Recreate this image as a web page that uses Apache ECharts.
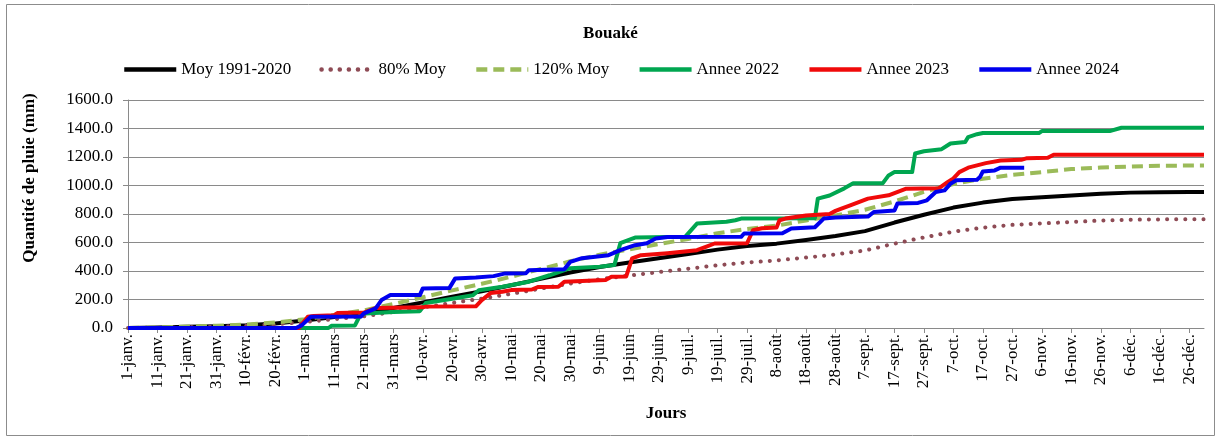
<!DOCTYPE html>
<html>
<head>
<meta charset="utf-8">
<script src="https://cdn.jsdelivr.net/npm/echarts@6/dist/echarts.min.js"></script>
<style>
html,body{margin:0;padding:0;background:#fff;}
#c{width:1221px;height:441px;}
</style>
</head>
<body>
<div id="c"></div>
<script>
// ---- tick labels (every 10 days, leap year) ----
const tickLabels = ['1-janv.','11-janv.','21-janv.','31-janv.','10-févr.','20-févr.','1-mars','11-mars','21-mars','31-mars','10-avr.','20-avr.','30-avr.','10-mai','20-mai','30-mai','9-juin','19-juin','29-juin','9-juil.','19-juil.','29-juil.','8-août','18-août','28-août','7-sept.','17-sept.','27-sept.','7-oct.','17-oct.','27-oct.','6-nov.','16-nov.','26-nov.','6-déc.','16-déc.','26-déc.'];
const tickDays = [0,10,20,30,40,50,60,70,80,90,100,110,120,130,140,150,160,170,180,190,200,210,220,230,240,250,260,270,280,290,300,310,320,330,340,350,360];

// ---- climatological curves (day of year -> cumulative mm) ----
const refDays = [0,10,20,30,40,50,60,70,80,90,100,110,120,130,140,150,160,170,180,190,200,210,220,230,240,250,260,270,280,290,300,310,320,330,340,350,360,365];
const moy    = [0,3,8,13,20,32,52,77,103,140,180,220,258,300,345,390,428,460,490,520,550,575,592,618,645,680,740,795,845,880,905,918,930,942,950,953,955,955];
const moy80  = [0,2,6,10,16,26,42,62,82,112,144,176,206,240,276,312,342,368,392,416,440,460,474,494,516,544,592,636,676,704,724,734,744,754,760,762,764,764];
const moy120 = [0,4,10,16,24,38,62,92,124,168,216,264,310,360,414,468,514,552,588,625,665,695,718,755,790,830,888,955,1010,1048,1075,1094,1115,1126,1133,1138,1140,1140];

// ---- observed years: [day of year, cumulative mm] ----
const y2022 = [[0,0],[68,0],[69,15],[77,18],[79,100],[90,112],[99,118],[101,175],[110,205],[117,230],[119,265],[127,290],[136,325],[143,370],[150,420],[160,430],[165,442],[167,595],[172,635],[189,640],[193,733],[203,745],[206,756],[208,768],[233,770],[234,908],[238,930],[243,980],[246,1015],[256,1015],[258,1071],[260,1094],[266,1094],[267,1225],[270,1240],[276,1255],[279,1295],[284,1305],[285,1340],[288,1360],[290,1368],[309,1368],[310,1382],[333,1382],[337,1405],[365,1405]];
const y2023 = [[0,0],[58,0],[61,79],[63,85],[70,90],[71,105],[80,108],[84,140],[100,145],[101,150],[118,152],[120,196],[123,245],[127,254],[130,266],[137,270],[139,287],[146,290],[148,324],[162,336],[164,359],[169,362],[171,488],[174,511],[183,525],[188,535],[193,546],[196,569],[199,593],[210,595],[212,686],[215,700],[220,705],[221,756],[223,768],[230,790],[238,800],[240,822],[242,838],[245,861],[251,908],[258,931],[264,978],[275,980],[278,1024],[280,1050],[282,1094],[285,1125],[288,1141],[291,1157],[296,1176],[303,1180],[305,1192],[312,1195],[314,1216],[365,1216]];
const y2024 = [[0,0],[57,0],[59,20],[62,79],[79,80],[80,103],[84,138],[86,196],[89,231],[99,231],[100,278],[109,280],[111,348],[118,355],[124,364],[128,383],[135,385],[136,406],[148,413],[150,464],[154,490],[163,511],[167,546],[172,581],[176,595],[179,628],[183,639],[208,640],[209,663],[222,665],[225,698],[233,707],[236,768],[240,775],[251,782],[253,814],[260,824],[261,873],[268,878],[271,896],[274,954],[277,966],[279,1013],[281,1036],[288,1040],[289,1059],[290,1099],[294,1106],[296,1125],[304,1125]];

const serif = "'Liberation Serif','Times New Roman',serif";
const pair = (days, vals) => days.map((d, i) => [d, vals[i]]);

const chart = echarts.init(document.getElementById('c'), null, {renderer: 'canvas'});
function lineSeries(name, data, color, type, cap) {
  return {
    name: name, type: 'line', data: data, symbol: 'none', showSymbol: false,
    animation: false,
    lineStyle: {color: color, width: 4, type: type || 'solid', cap: cap || 'butt', join: 'round'},
    itemStyle: {color: color}
  };
}
chart.setOption({
  backgroundColor: '#fff',
  animation: false,
  title: {
    text: 'Bouaké', left: 'center', top: 20,
    textStyle: {fontFamily: serif, fontSize: 17, fontWeight: 'bold', color: '#000'}
  },
  legend: {
    left: 117, top: 56, itemWidth: 52, itemHeight: 12, itemGap: 28,
    itemStyle: {opacity: 0},
    lineStyle: {width: 4.5},
    textStyle: {fontFamily: serif, fontSize: 17, color: '#000'},
    data: ['Moy 1991-2020','80% Moy','120% Moy','Annee 2022','Annee 2023','Annee 2024']
  },
  grid: {left: 128, right: 17, top: 100, bottom: 113, containLabel: false},
  xAxis: {
    type: 'value', min: 0, max: 365, interval: 10,
    name: 'Jours', nameLocation: 'middle', nameGap: 77,
    nameTextStyle: {fontFamily: serif, fontSize: 17, fontWeight: 'bold', color: '#000'},
    axisLine: {show: true, lineStyle: {color: '#8a8a8a', width: 1}},
    axisTick: {show: true, length: 5, lineStyle: {color: '#8a8a8a'}, customValues: tickDays},
    axisLabel: {
      rotate: 90, margin: 6, color: '#000', fontFamily: serif, fontSize: 17,
      customValues: tickDays,
      formatter: function (v) { const i = tickDays.indexOf(v); return i >= 0 ? tickLabels[i] : ''; }
    },
    splitLine: {show: false}
  },
  yAxis: {
    type: 'value', min: 0, max: 1600, interval: 200,
    axisLine: {show: true, lineStyle: {color: '#8a8a8a', width: 1}},
    axisTick: {show: true, length: 5, lineStyle: {color: '#8a8a8a'}},
    axisLabel: {color: '#000', fontFamily: serif, fontSize: 17, margin: 15,
      formatter: function (v) { return v.toFixed(1); }},
    splitLine: {show: true, lineStyle: {color: '#8a8a8a', width: 1}}
  },
  graphic: [
    {type: 'rect', shape: {x: 6.5, y: 4.5, width: 1208, height: 431}, style: {fill: 'none', stroke: '#8c8c8c', lineWidth: 1}, silent: true, z: -1},
    {type: 'text', x: 30, y: 178, rotation: Math.PI / 2,
     style: {text: 'Quantité de pluie (mm)', font: "bold 17px 'Liberation Serif','Times New Roman',serif", fill: '#000', align: 'center', verticalAlign: 'middle'}}
  ],
  series: [
    lineSeries('Moy 1991-2020', pair(refDays, moy), '#000000'),
    lineSeries('80% Moy', pair(refDays, moy80), '#8E4B55', [0.1, 9], 'round'),
    lineSeries('120% Moy', pair(refDays, moy120), '#9BBB59', [11, 6]),
    lineSeries('Annee 2022', y2022, '#00A650'),
    lineSeries('Annee 2023', y2023, '#F00A0A'),
    lineSeries('Annee 2024', y2024, '#0000EE')
  ]
});
</script>
</body>
</html>
